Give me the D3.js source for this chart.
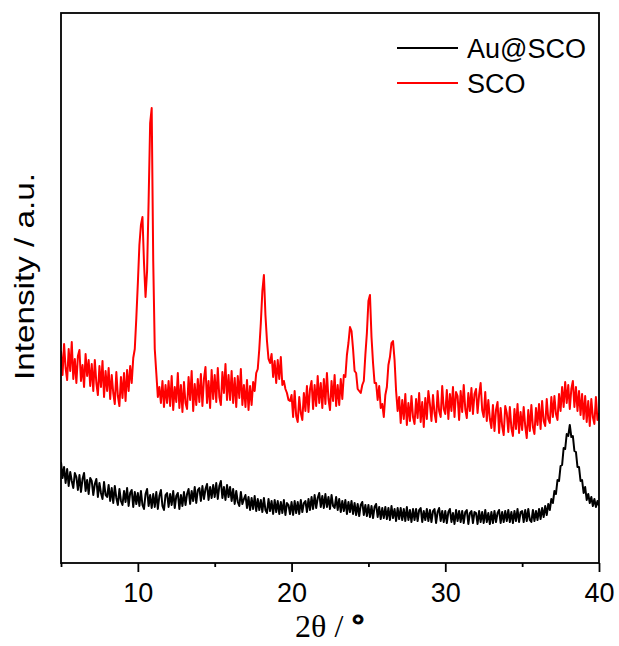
<!DOCTYPE html>
<html>
<head>
<meta charset="utf-8">
<script src="https://cdn.jsdelivr.net/npm/d3@7"></script>
<style>
  html, body { margin: 0; padding: 0; background: #fff; }
  svg { display: block; }
</style>
</head>
<body>
<svg id="chart" width="619" height="646"></svg>
<script>
// 2θ grid: 5.0 to 40.0 in 0.1° steps
const twoThetaStart = 5;
const twoThetaStep = 0.1;

// SCO pattern (a.u.), one value per 0.1°
const scoIntensity = [
  212,188,219,195,183,214,192,221,184,204,
  180,207,213,182,198,176,209,187,203,177,
  199,172,203,180,168,197,176,202,166,192,
  172,195,164,188,170,159,191,167,157,186,
  165,190,162,193,172,197,180,205,214,245,
  280,318,338,346,300,266,292,362,440,455,
  302,214,190,166,176,160,182,156,178,160,
  182,157,187,153,176,161,190,155,178,151,
  181,160,154,186,163,192,152,179,158,184,
  161,189,157,184,196,160,182,155,193,164,
  188,161,195,166,158,191,170,199,163,188,
  163,192,160,185,156,187,165,194,158,178,
  156,183,153,177,158,181,172,190,194,214,
  240,272,288,248,222,204,200,209,186,202,
  180,203,184,206,178,182,174,170,163,162,
  168,146,172,147,141,166,150,143,170,152,
  177,151,174,182,154,178,157,187,160,180,
  155,184,159,190,164,153,182,162,188,157,
  178,158,184,164,188,186,208,220,236,232,
  214,192,190,174,172,170,178,182,208,230,
  262,268,226,200,180,180,163,177,155,159,
  146,168,176,198,206,220,222,203,172,152,
  166,140,163,144,169,138,160,142,167,146,
  139,164,145,170,141,161,136,165,144,172,
  159,142,168,150,141,172,152,146,177,154,
  149,173,144,169,152,176,146,171,167,143,
  172,151,178,154,145,170,152,175,149,169,
  174,150,168,180,153,146,171,142,163,144,
  135,158,132,153,161,130,155,137,128,157,
  150,131,156,135,127,154,134,159,130,151,
  133,156,137,125,153,132,158,136,129,155,
  138,159,134,162,142,137,164,144,140,166,
  146,167,149,143,169,152,176,156,181,160,
  178,154,174,182,156,176,152,172,148,169,
  144,167,141,162,137,164,146,139,166,143,
  150
];

// Au@SCO pattern (a.u.), one value per 0.1°
const auScoIntensity = [
  101,85,96,80,94,77,91,82,75,90,
  86,73,88,71,84,90,72,83,69,85,
  82,68,79,84,66,80,70,64,81,68,
  66,78,62,75,60,77,65,58,74,62,
  58,72,61,75,57,70,73,56,71,59,
  70,57,72,58,54,69,74,57,68,55,
  69,56,71,54,67,73,57,53,68,70,
  56,69,58,72,55,67,70,54,68,57,
  71,58,69,74,59,72,62,76,60,73,
  75,62,77,64,74,79,63,76,65,78,
  66,80,64,77,82,65,76,63,78,66,
  76,62,74,59,72,61,57,71,59,64,
  68,55,66,53,65,54,67,52,64,53,
  63,51,65,53,50,64,52,62,49,63,
  51,62,49,61,50,63,48,60,58,49,
  61,48,62,50,61,49,63,51,60,62,
  51,64,53,66,54,68,55,65,70,56,
  67,55,69,56,66,54,68,57,55,66,
  53,64,51,62,52,63,49,61,51,62,
  49,60,48,59,47,58,61,48,58,47,
  58,46,57,45,56,59,46,56,44,55,
  45,56,44,55,43,57,45,54,42,55,
  44,55,43,54,42,56,43,53,41,54,
  43,54,42,53,55,41,52,43,54,42,
  53,41,52,54,40,51,55,42,52,41,
  52,40,51,54,41,50,39,53,42,52,
  41,52,40,51,53,39,50,52,40,51,
  50,39,52,41,51,40,53,41,50,39,
  51,40,52,41,50,53,40,51,41,52,
  42,53,41,51,40,52,42,54,41,51,
  52,41,53,42,54,43,41,53,42,52,
  43,54,44,55,46,57,48,59,53,64,
  60,72,69,83,82,97,98,115,114,129,
  127,138,126,127,112,111,96,96,82,83,
  70,76,63,69,60,66,57,64,56,62,
  57
];

const seriesNames = ["Au@SCO", "SCO"];
const seriesColors = ["#000000", "#ff0000"];
const xTickValues = [10, 20, 30, 40];
const xMinorTickValues = [5, 15, 25, 35];
const xDomain = [5, 40];
const yDomain = [0, 550];
const xTitleMain = "2θ / ";
const xTitleUnit = "°";
const yTitle = "Intensity / a.u.";

// ---- layout ----
const svg = d3.select("#chart");
const plot = { left: 61, right: 599, top: 13, bottom: 563 };

const x = d3.scaleLinear().domain(xDomain).range([plot.left, plot.right]);
const y = d3.scaleLinear().domain(yDomain).range([plot.bottom, plot.top]);

const toPoints = arr => arr.map((v, i) => ({ t: twoThetaStart + i * twoThetaStep, v }));
const series = [
  { name: seriesNames[0], color: seriesColors[0], pts: toPoints(auScoIntensity) },
  { name: seriesNames[1], color: seriesColors[1], pts: toPoints(scoIntensity) }
];

svg.append("defs").append("clipPath").attr("id", "clip")
  .append("rect")
  .attr("x", plot.left).attr("y", plot.top)
  .attr("width", plot.right - plot.left).attr("height", plot.bottom - plot.top);

const line = d3.line().x(d => x(d.t)).y(d => y(d.v));

const g = svg.append("g").attr("clip-path", "url(#clip)");
series.slice().reverse().forEach(s => {
  g.append("path")
    .datum(s.pts)
    .attr("fill", "none")
    .attr("stroke", s.color)
    .attr("stroke-width", 2)
    .attr("stroke-linejoin", "round")
    .attr("d", line);
});

// frame
svg.append("rect")
  .attr("x", plot.left).attr("y", plot.top)
  .attr("width", plot.right - plot.left).attr("height", plot.bottom - plot.top)
  .attr("fill", "none").attr("stroke", "#000").attr("stroke-width", 1.8);

// x axis major
const xAxis = svg.append("g")
  .attr("transform", `translate(0,${plot.bottom})`)
  .call(d3.axisBottom(x).tickValues(xTickValues).tickSize(9).tickPadding(11).tickFormat(d3.format("d")));
xAxis.select(".domain").remove();
xAxis.selectAll(".tick line").attr("stroke", "#000").attr("stroke-width", 1.8);
xAxis.selectAll(".tick text")
  .attr("fill", "#000")
  .style("font-family", "'Liberation Sans', Arial, sans-serif")
  .style("font-size", "27px");

// x axis minor
const xMinor = svg.append("g")
  .attr("transform", `translate(0,${plot.bottom})`)
  .call(d3.axisBottom(x).tickValues(xMinorTickValues).tickSize(4).tickFormat(""));
xMinor.select(".domain").remove();
xMinor.selectAll(".tick line").attr("stroke", "#000").attr("stroke-width", 1.8);

// axis titles
const xt = svg.append("text")
  .attr("x", (plot.left + plot.right) / 2)
  .attr("y", 637)
  .attr("text-anchor", "middle")
  .style("font-family", "'Liberation Serif', 'Times New Roman', serif")
  .style("font-size", "32px");
xt.append("tspan").text(xTitleMain);
xt.append("tspan")
  .attr("dy", 1)
  .attr("stroke", "#000")
  .attr("stroke-width", 1.2)
  .style("font-family", "'Liberation Sans', Arial, sans-serif")
  .style("font-size", "34px")
  .text(xTitleUnit);

svg.append("text")
  .attr("transform", `translate(34,${(380 + 173) / 2}) rotate(-90)`)
  .attr("text-anchor", "middle")
  .attr("textLength", 207)
  .attr("lengthAdjust", "spacingAndGlyphs")
  .style("font-family", "'Liberation Sans', Arial, sans-serif")
  .style("font-size", "28px")
  .text(yTitle);

// legend
const legend = svg.append("g");
const legendY = [48, 83];
series.forEach((s, i) => {
  legend.append("line")
    .attr("x1", 397).attr("x2", 458)
    .attr("y1", legendY[i]).attr("y2", legendY[i])
    .attr("stroke", s.color).attr("stroke-width", 2);
  legend.append("text")
    .attr("x", 467).attr("y", legendY[i] + 9.5)
    .style("font-family", "'Liberation Sans', Arial, sans-serif")
    .style("font-size", "27px")
    .text(s.name);
});
</script>
</body>
</html>
